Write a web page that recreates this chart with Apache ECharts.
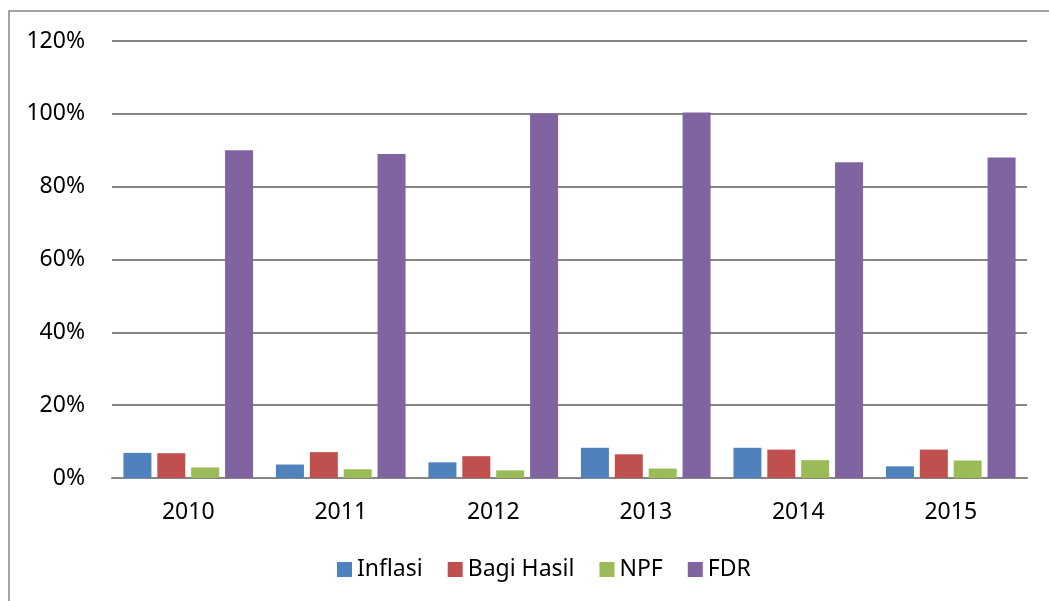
<!DOCTYPE html>
<html>
<head>
<meta charset="utf-8">
<script src="https://cdn.jsdelivr.net/npm/echarts@6/dist/echarts.min.js"></script>
<style>
  html, body { margin: 0; padding: 0; background: #fff; }
  #main { width: 1049px; height: 601px; }
</style>
</head>
<body>
<div id="main"></div>
<script>
// tahun
var years = ['2010', '2011', '2012', '2013', '2014', '2015']
// nilai dalam persen
var inflasi = [6.9, 3.7, 4.3, 8.3, 8.3, 3.2]
var bagiHasil = [6.8, 7.1, 6.0, 6.5, 7.8, 7.8]
var npf = [2.9, 2.4, 2.1, 2.6, 4.9, 4.8]
var fdr = [90.0, 89.0, 100.0, 100.4, 86.7, 88.0]

var colors = ['#4F81BD', '#C0504D', '#9BBB59', '#8064A2']
var fontFamily = '"Noto Sans", "Open Sans", sans-serif'

function bar(name, data) {
  return {
    name: name,
    type: 'bar',
    data: data,
    barWidth: 28,
    barGap: '21%'
  }
}

var myChart = echarts.init(document.getElementById('main'))
var option = {
  animation: false,
  color: colors,
  textStyle: { fontFamily: fontFamily },
  graphic: [
    {
      type: 'polyline',
      shape: { points: [[9, 601], [9, 11], [1049, 11]] },
      style: { stroke: '#868686', lineWidth: 1.5, fill: null }
    }
  ],
  grid: { left: 112, right: 22, top: 41, bottom: 123 },
  legend: {
    bottom: 15,
    left: 332,
    itemWidth: 15,
    itemHeight: 15,
    itemGap: 25,
    icon: 'rect',
    textStyle: { fontSize: 23, color: '#000', fontFamily: fontFamily },
    data: ['Inflasi', 'Bagi Hasil', 'NPF', 'FDR']
  },
  xAxis: {
    type: 'category',
    data: years,
    axisLine: { lineStyle: { color: '#868686', width: 2 } },
    axisTick: { show: false },
    axisLabel: { fontSize: 23, color: '#000', margin: 23 }
  },
  yAxis: {
    type: 'value',
    min: 0,
    max: 120,
    interval: 20,
    axisLine: { show: false },
    axisTick: { show: false },
    splitLine: { lineStyle: { color: '#868686', width: 2 } },
    axisLabel: {
      fontSize: 23,
      color: '#000',
      margin: 27,
      formatter: '{value}%'
    }
  },
  series: [
    bar('Inflasi', inflasi),
    bar('Bagi Hasil', bagiHasil),
    bar('NPF', npf),
    bar('FDR', fdr)
  ]
}
myChart.setOption(option)
</script>
</body>
</html>
